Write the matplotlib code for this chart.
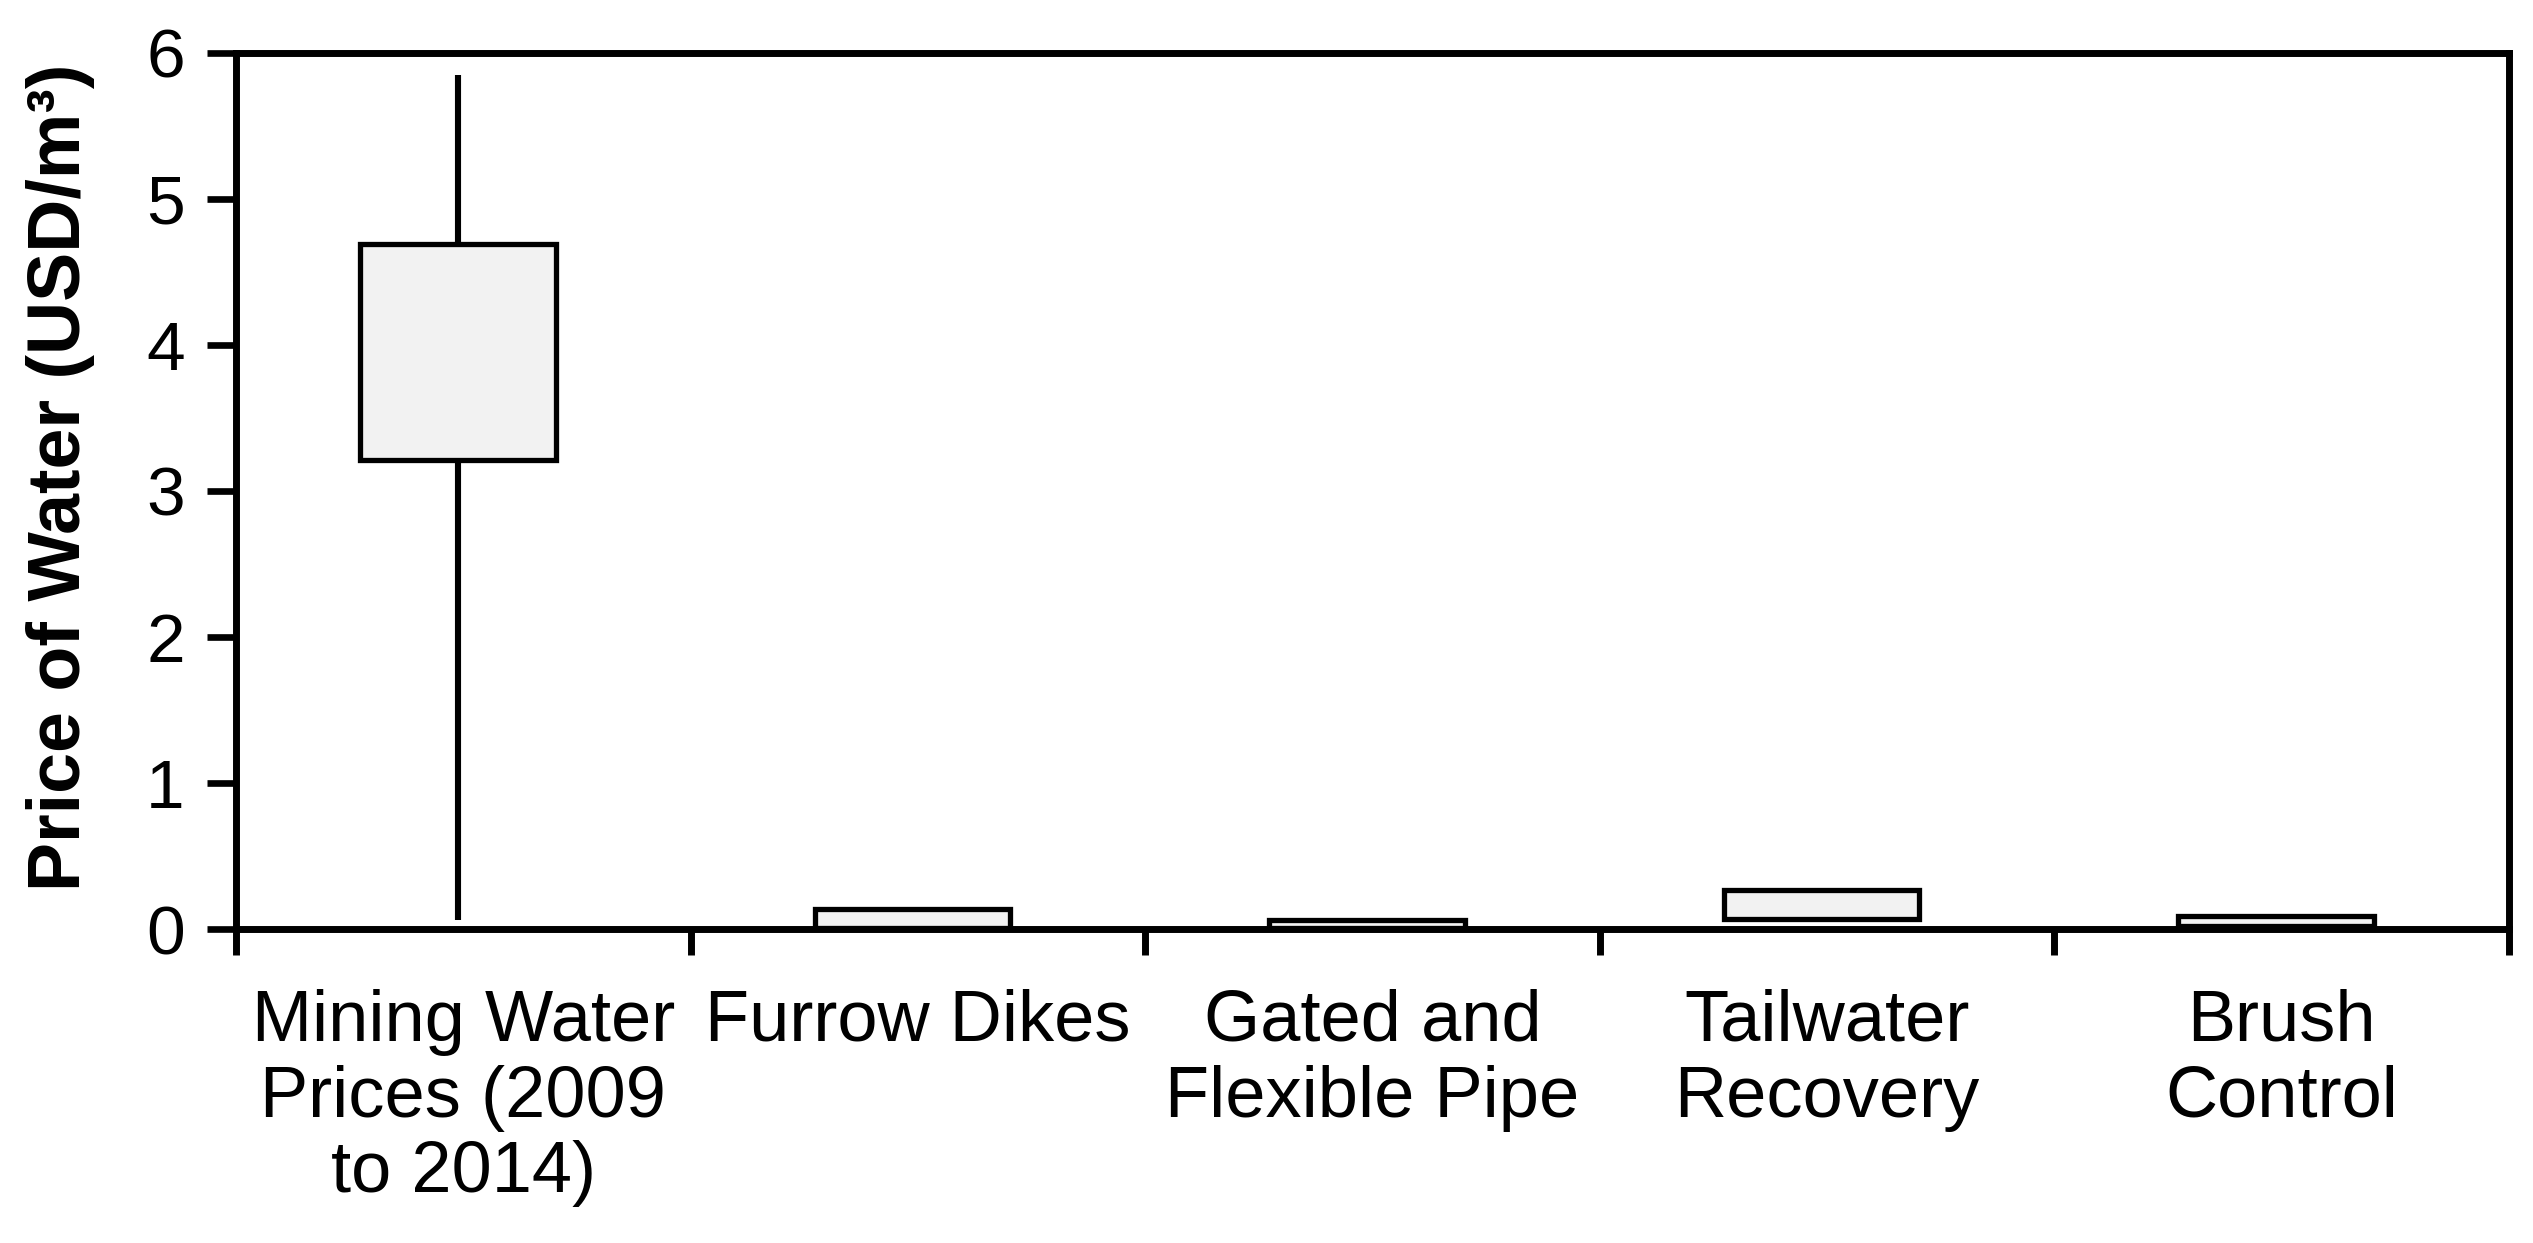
import matplotlib
matplotlib.use("Agg")
import matplotlib.pyplot as plt
import numpy as np

# categorie e valori (USD/m3)
categories = ["Mining Water\nPrices (2009\nto 2014)", "Furrow Dikes",
              "Gated and\nFlexible Pipe", "Tailwater\nRecovery",
              "Brush\nControl"]
box_low = [3.21, 0.01, 0.01, 0.07, 0.02]
box_high = [4.69, 0.135, 0.062, 0.267, 0.089]
whisker_low = [0.06, None, None, None, None]
whisker_high = [5.85, None, None, None, None]
y_ticks = [0, 1, 2, 3, 4, 5, 6]

plt.rcParams["font.family"] = ["Liberation Sans", "DejaVu Sans"]

fig = plt.figure(figsize=(25.33, 12.43), dpi=100)
ax = fig.add_axes([0.0932, 0.2526, 0.8973, 0.7048])

x = np.arange(len(categories)) + 0.5

# baffi (solo dove presenti)
for xi, lo, hi in zip(x, whisker_low, whisker_high):
    if lo is not None:
        ax.vlines(xi - 0.012, lo, hi, color="black", lw=4.4, zorder=1)

heights = [h - l for h, l in zip(box_high, box_low)]
ax.bar(x - 0.012, heights, bottom=box_low, width=0.43, color="#f2f2f2",
       edgecolor="black", linewidth=3.8, zorder=2)

ax.set_xlim(0, len(categories))
ax.set_ylim(0, 6)
ax.set_yticks(y_ticks)
ax.set_xticks(np.arange(len(categories) + 1))
ax.set_xticklabels([])
ax.set_xticks(x, minor=True)
ax.set_xticklabels(categories, minor=True, fontsize=52, linespacing=1.17,
                   ha="center", va="top")
ax.tick_params(axis="x", which="minor", length=0, pad=43)
ax.tick_params(axis="x", which="major", direction="out", length=19,
               width=5)
ax.tick_params(axis="y", direction="out", length=21, width=4.8,
               labelsize=50, pad=16)

for s in ax.spines.values():
    s.set_linewidth(5)

ax.set_ylabel("Price of Water (USD/m³)", fontsize=53, fontweight="bold")
ax.yaxis.set_label_coords(-0.062, 0.516)

fig.savefig("out.png", dpi=100)
